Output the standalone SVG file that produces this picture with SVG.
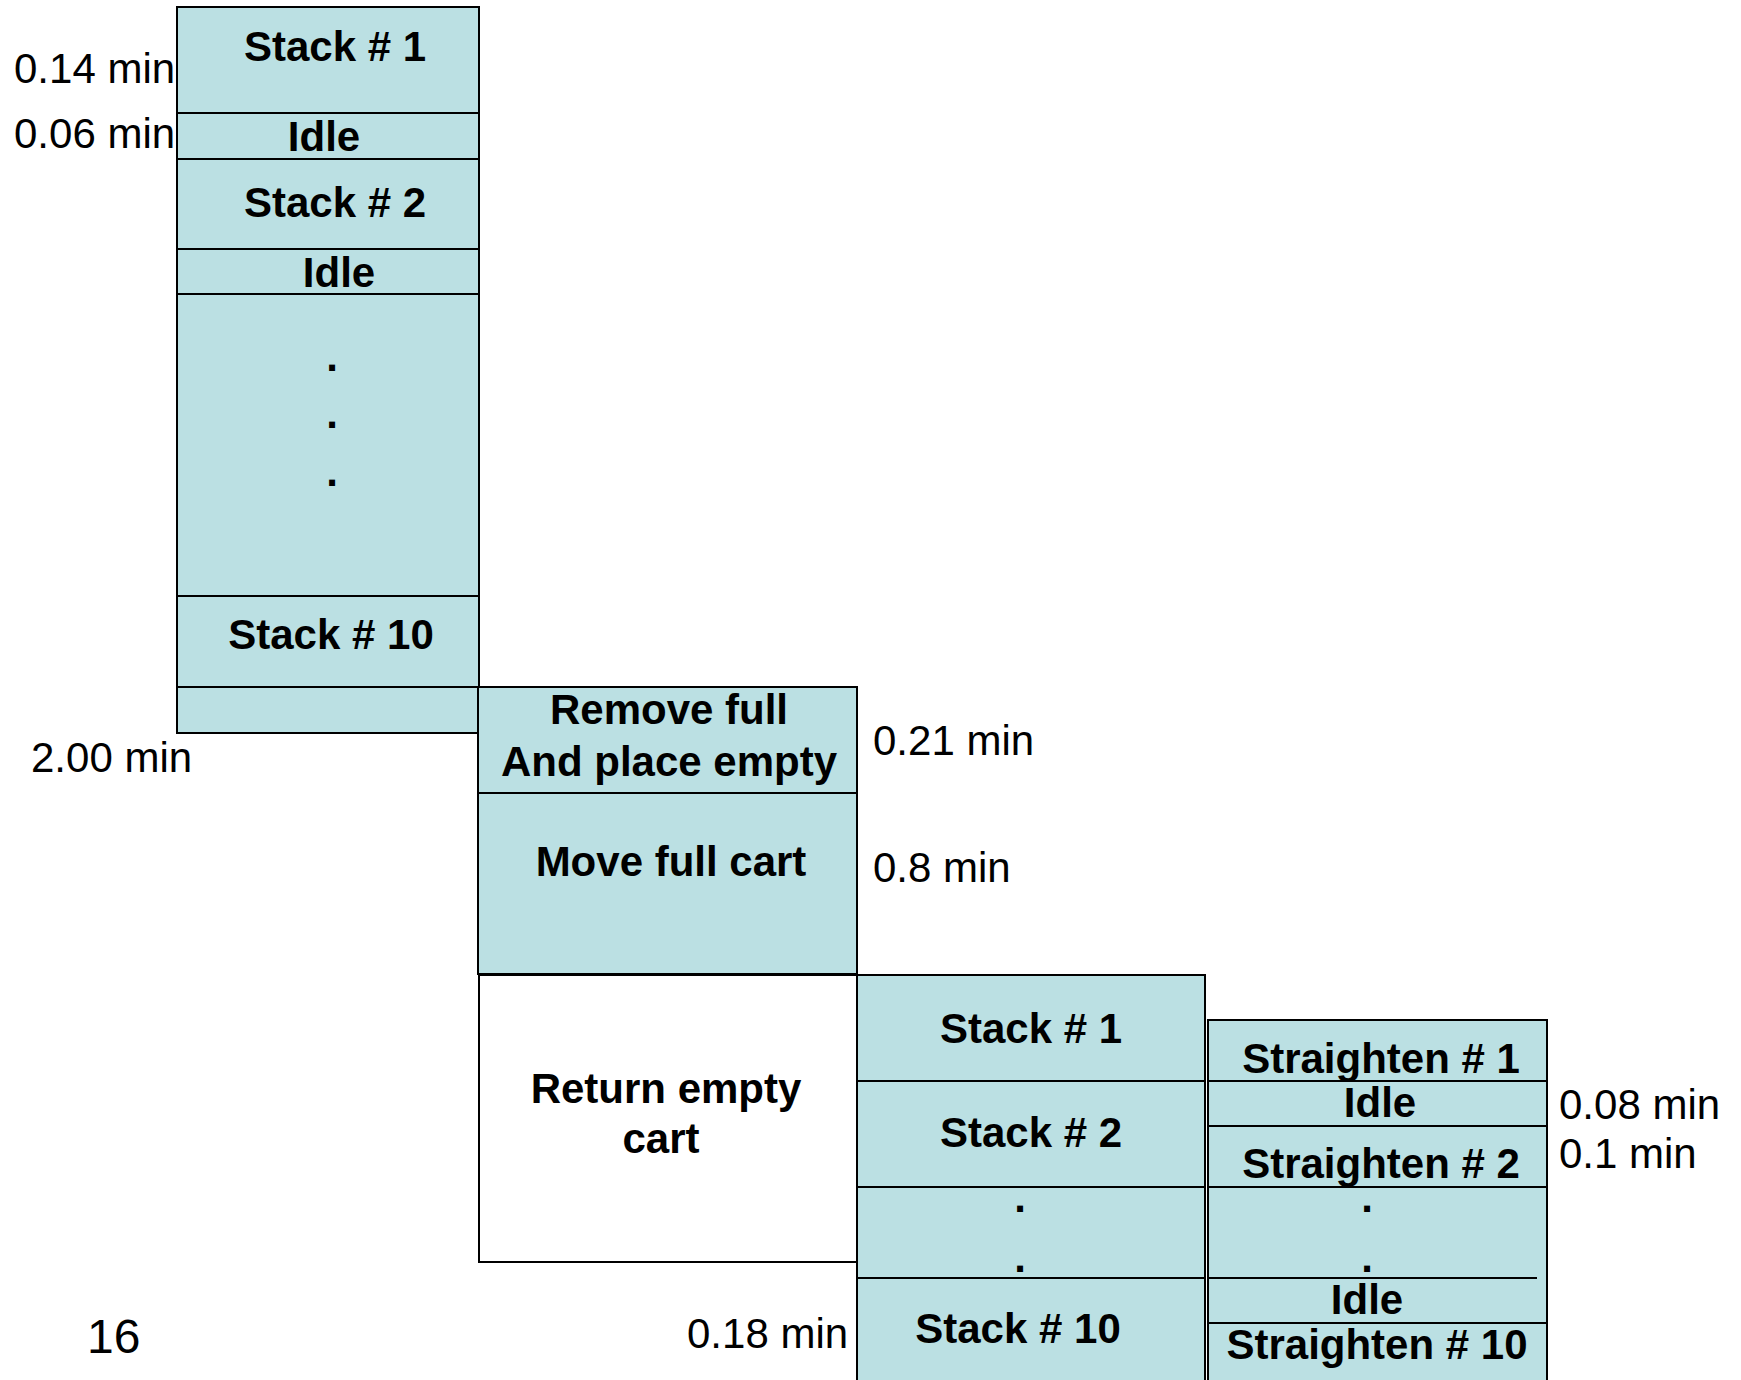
<svg xmlns="http://www.w3.org/2000/svg" width="1741" height="1380" viewBox="0 0 1741 1380">
<style>
.box{fill:#BBE0E3;stroke:#000;stroke-width:2}
.wbox{fill:#fff;stroke:#000;stroke-width:2}
.sep{stroke:#000;stroke-width:2;fill:none}
.b{font-family:"Liberation Sans",Arial,sans-serif;font-weight:bold;font-size:42px;fill:#000;text-anchor:middle}
.r{font-family:"Liberation Sans",Arial,sans-serif;font-size:42px;fill:#000}
</style>
<rect width="1741" height="1380" fill="#fff"/>
<g id="operator1">
<rect class="box" x="177" y="7" width="302" height="726"/>
<line class="sep" x1="177" y1="113" x2="479" y2="113"/>
<line class="sep" x1="177" y1="159" x2="479" y2="159"/>
<line class="sep" x1="177" y1="249" x2="479" y2="249"/>
<line class="sep" x1="177" y1="294" x2="479" y2="294"/>
<line class="sep" x1="177" y1="596" x2="479" y2="596"/>
<line class="sep" x1="177" y1="687" x2="479" y2="687"/>
<text class="b" x="335" y="61">Stack # 1</text>
<text class="b" x="324" y="151">Idle</text>
<text class="b" x="335" y="217">Stack # 2</text>
<text class="b" x="339" y="287">Idle</text>
<text class="b" x="332" y="371">.</text>
<text class="b" x="332" y="428">.</text>
<text class="b" x="332" y="486">.</text>
<text class="b" x="331" y="649">Stack # 10</text>
</g>
<g id="cart">
<rect class="box" x="478" y="687" width="379" height="287"/>
<line class="sep" x1="478" y1="793" x2="857" y2="793"/>
<text class="b" x="669" y="724">Remove full</text>
<text class="b" x="669" y="776">And place empty</text>
<text class="b" x="671" y="876">Move full cart</text>
</g>
<g id="return">
<rect class="wbox" x="479" y="975" width="378" height="287"/>
<text class="b" x="666" y="1103">Return empty</text>
<text class="b" x="661" y="1153">cart</text>
</g>
<g id="operator2">
<rect class="box" x="857" y="975" width="348" height="420"/>
<line class="sep" x1="857" y1="1081" x2="1205" y2="1081"/>
<line class="sep" x1="857" y1="1187" x2="1205" y2="1187"/>
<line class="sep" x1="857" y1="1278" x2="1205" y2="1278"/>
<text class="b" x="1031" y="1043">Stack # 1</text>
<text class="b" x="1031" y="1147">Stack # 2</text>
<text class="b" x="1020" y="1212">.</text>
<text class="b" x="1020" y="1272">.</text>
<text class="b" x="1018" y="1343">Stack # 10</text>
</g>
<g id="operator3">
<rect class="box" x="1208" y="1020" width="339" height="380"/>
<line class="sep" x1="1208" y1="1081" x2="1547" y2="1081"/>
<line class="sep" x1="1208" y1="1126" x2="1547" y2="1126"/>
<line class="sep" x1="1208" y1="1187" x2="1547" y2="1187"/>
<line class="sep" x1="1208" y1="1278" x2="1537" y2="1278"/>
<line class="sep" x1="1208" y1="1323" x2="1547" y2="1323"/>
<text class="b" x="1381" y="1073">Straighten # 1</text>
<text class="b" x="1380" y="1117">Idle</text>
<text class="b" x="1381" y="1178">Straighten # 2</text>
<text class="b" x="1367" y="1212">.</text>
<text class="b" x="1367" y="1272">.</text>
<text class="b" x="1367" y="1314">Idle</text>
<text class="b" x="1377" y="1359">Straighten # 10</text>
</g>
<g id="labels">
<text class="r" x="14" y="83">0.14 min</text>
<text class="r" x="14" y="148">0.06 min</text>
<text class="r" x="31" y="772">2.00 min</text>
<text class="r" x="873" y="755">0.21 min</text>
<text class="r" x="873" y="882">0.8 min</text>
<text class="r" x="687" y="1348">0.18 min</text>
<text class="r" x="1559" y="1119">0.08 min</text>
<text class="r" x="1559" y="1168">0.1 min</text>
<text class="r" x="87" y="1353" style="font-size:48px">16</text>
</g>
<g id="connectors"/>
</svg>
